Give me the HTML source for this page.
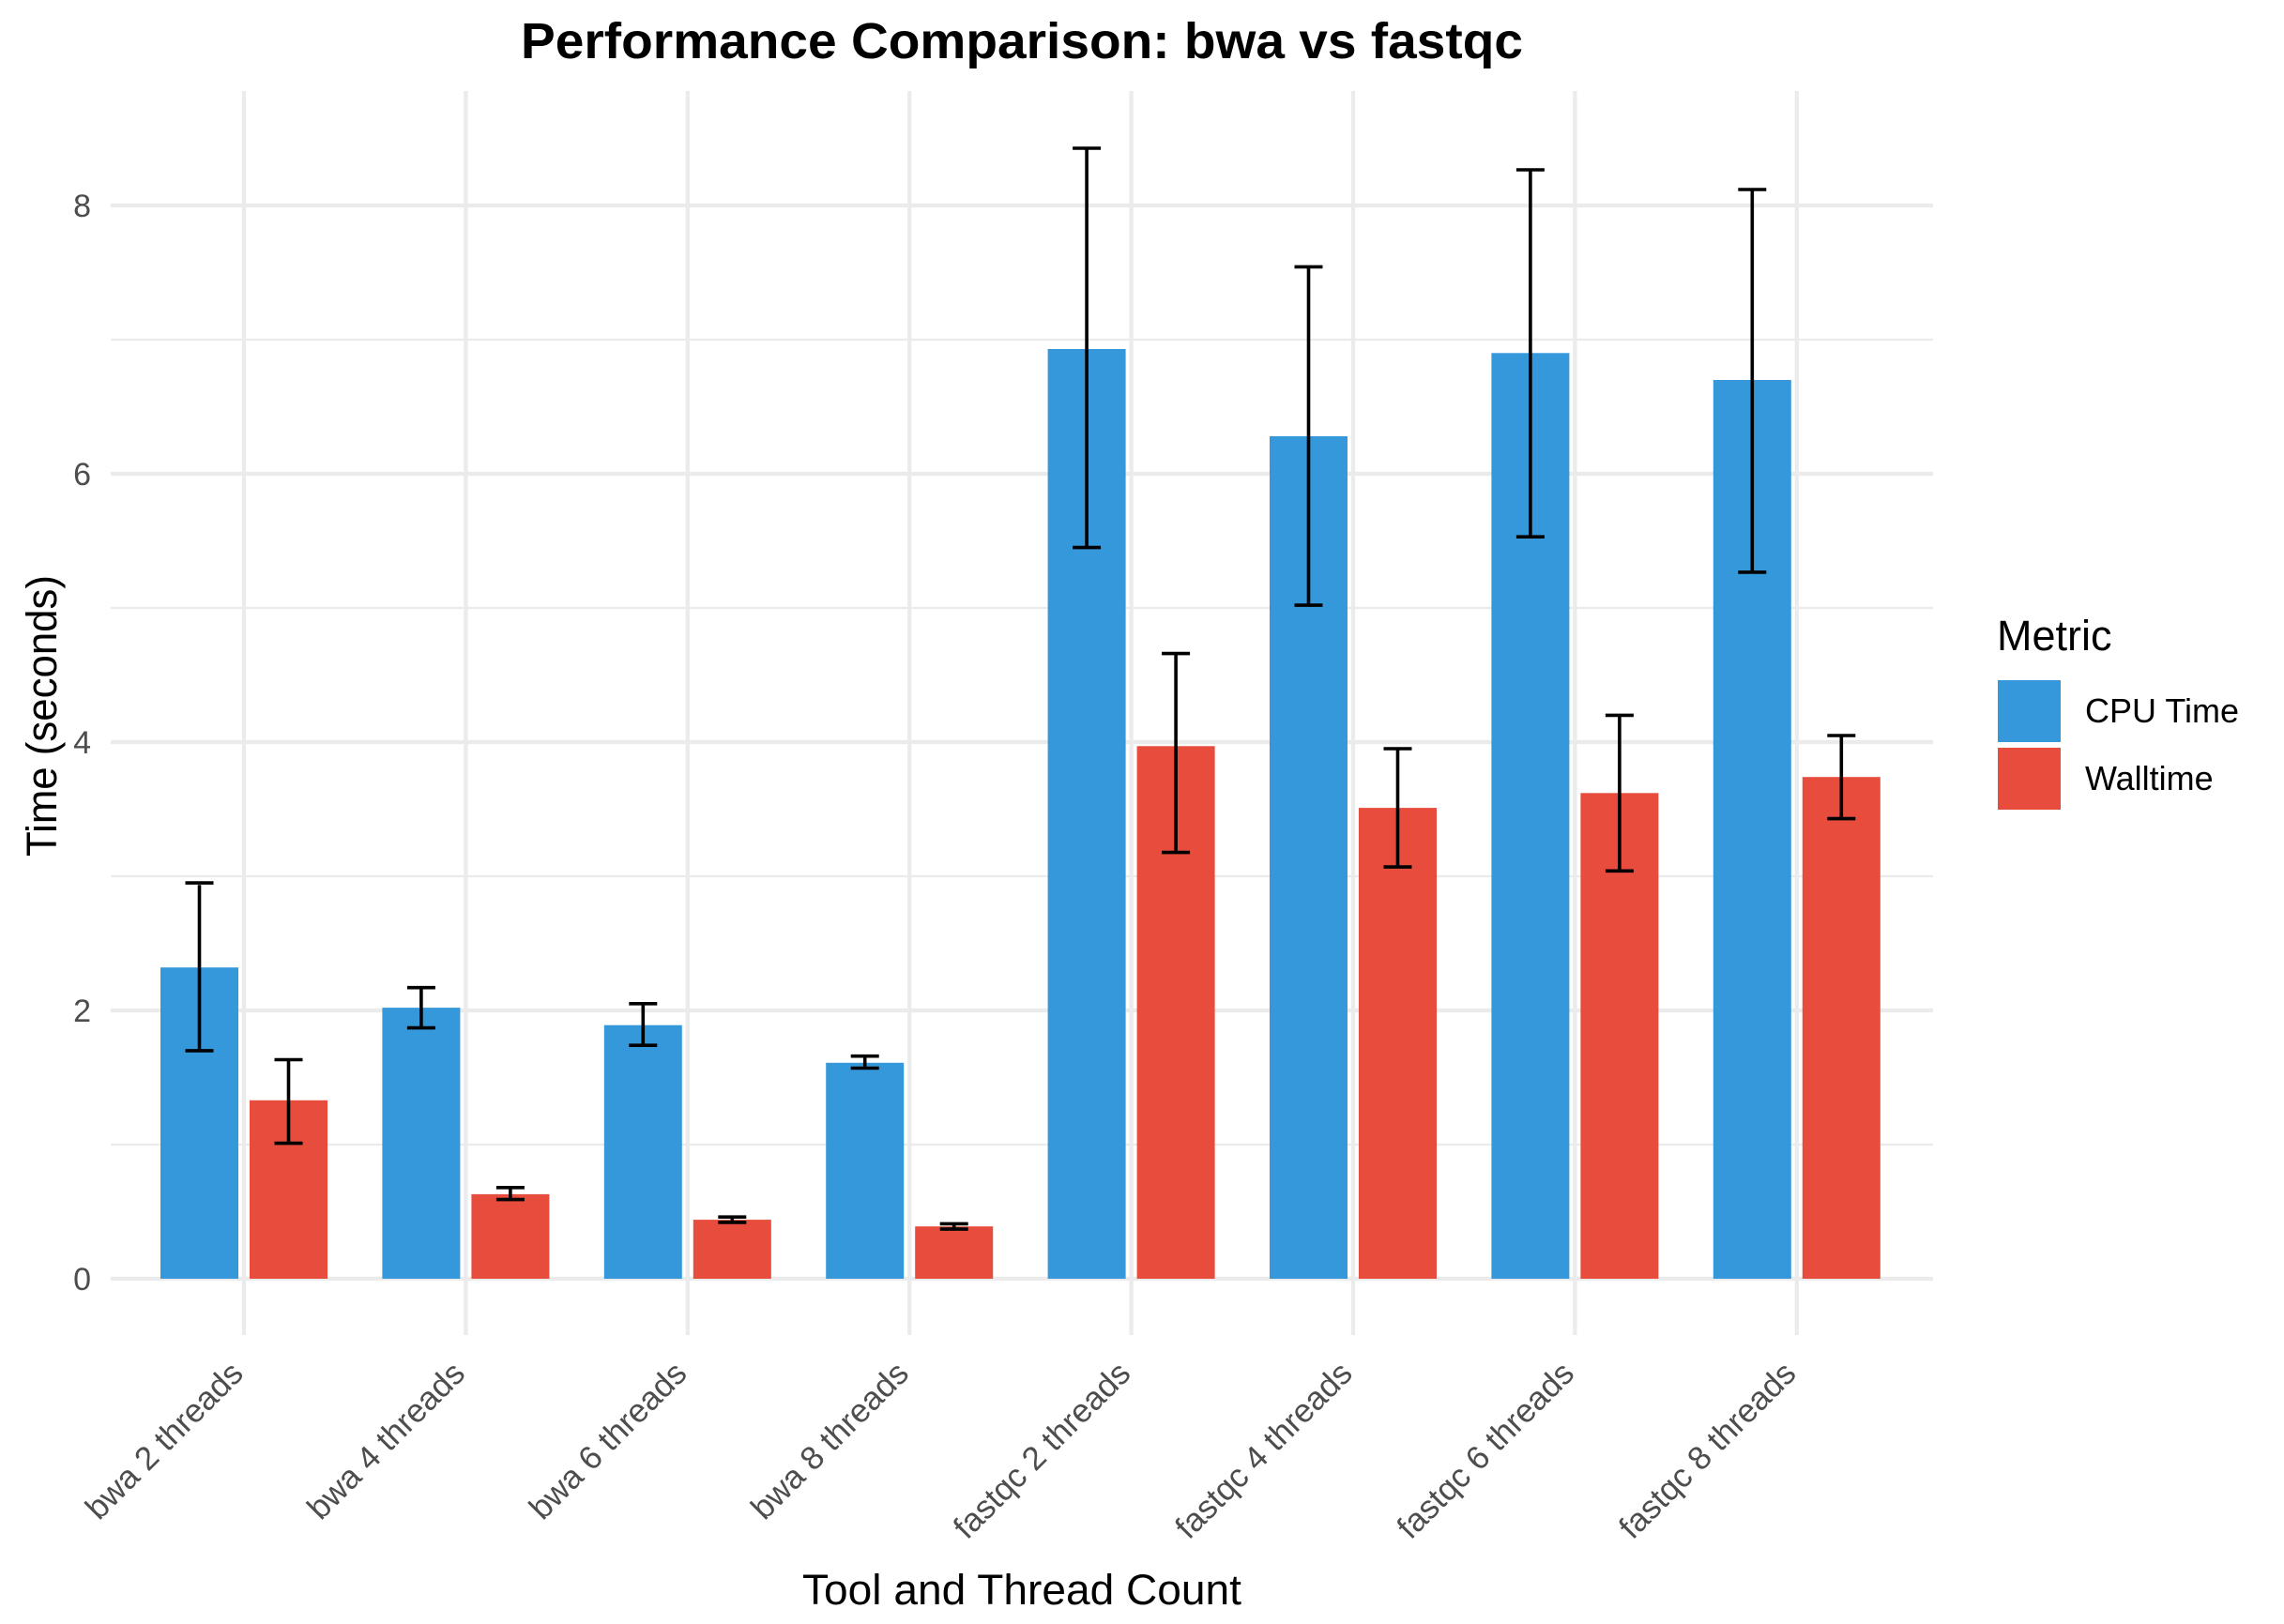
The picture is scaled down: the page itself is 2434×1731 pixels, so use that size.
<!DOCTYPE html>
<html><head><meta charset="utf-8"><style>html,body{margin:0;padding:0;background:#fff}svg{display:block}</style></head>
<body>
<svg width="2434" height="1731" viewBox="0 0 2434 1731" xmlns="http://www.w3.org/2000/svg" font-family="Liberation Sans, Arial, sans-serif">
<rect width="2434" height="1731" fill="#fff"/>
<g stroke="#ebebeb">
<g stroke-width="2.2">
<line x1="118" x2="2060" y1="1220" y2="1220"/><line x1="118" x2="2060" y1="934" y2="934"/><line x1="118" x2="2060" y1="648" y2="648"/><line x1="118" x2="2060" y1="362" y2="362"/>
</g>
<g stroke-width="4.3">
<line x1="118" x2="2060" y1="1363" y2="1363"/><line x1="118" x2="2060" y1="1077" y2="1077"/><line x1="118" x2="2060" y1="791" y2="791"/><line x1="118" x2="2060" y1="505" y2="505"/><line x1="118" x2="2060" y1="219" y2="219"/>
<line x1="260" x2="260" y1="97" y2="1423"/><line x1="496.4" x2="496.4" y1="97" y2="1423"/><line x1="732.8" x2="732.8" y1="97" y2="1423"/><line x1="969.2" x2="969.2" y1="97" y2="1423"/><line x1="1205.6" x2="1205.6" y1="97" y2="1423"/><line x1="1442" x2="1442" y1="97" y2="1423"/><line x1="1678.4" x2="1678.4" y1="97" y2="1423"/><line x1="1914.8" x2="1914.8" y1="97" y2="1423"/>
</g></g>
<g font-size="34" fill="#4d4d4d" text-anchor="end">
<text x="97" y="1375">0</text><text x="97" y="1089">2</text><text x="97" y="803">4</text><text x="97" y="517">6</text><text x="97" y="231">8</text>
</g>
<g font-size="35" fill="#4d4d4d" text-anchor="end">
<text transform="translate(261,1466) rotate(-45)">bwa 2 threads</text>
<text transform="translate(497.4,1466) rotate(-45)">bwa 4 threads</text>
<text transform="translate(733.8,1466) rotate(-45)">bwa 6 threads</text>
<text transform="translate(970.2,1466) rotate(-45)">bwa 8 threads</text>
<text transform="translate(1206.6,1466) rotate(-45)">fastqc 2 threads</text>
<text transform="translate(1443,1466) rotate(-45)">fastqc 4 threads</text>
<text transform="translate(1679.4,1466) rotate(-45)">fastqc 6 threads</text>
<text transform="translate(1915.8,1466) rotate(-45)">fastqc 8 threads</text>
</g>
<text x="1089" y="62" font-size="54" font-weight="bold" text-anchor="middle" fill="#000" textLength="1068" lengthAdjust="spacingAndGlyphs">Performance Comparison: bwa vs fastqc</text>
<text x="1089" y="1710" font-size="45" text-anchor="middle" fill="#000" textLength="468" lengthAdjust="spacingAndGlyphs">Tool and Thread Count</text>
<text transform="translate(60,763) rotate(-90)" font-size="45" text-anchor="middle" fill="#000" textLength="300" lengthAdjust="spacingAndGlyphs">Time (seconds)</text>
<text x="2128" y="693" font-size="45" fill="#000">Metric</text>
<rect x="2129" y="725" width="67" height="66" fill="#3598db"/>
<rect x="2129" y="797" width="67" height="66" fill="#e74c3c"/>
<text x="2222" y="770" font-size="36" fill="#000">CPU Time</text>
<text x="2222" y="842" font-size="36" fill="#000">Walltime</text>
<g fill="#3598db">
<rect x="171" y="1031.2" width="83" height="331.8"/>
<rect x="407.4" y="1074.1" width="83" height="288.9"/>
<rect x="643.8" y="1092.7" width="83" height="270.3"/>
<rect x="880.2" y="1132.8" width="83" height="230.2"/>
<rect x="1116.6" y="372" width="83" height="991"/>
<rect x="1353" y="465" width="83" height="898"/>
<rect x="1589.4" y="376.3" width="83" height="986.7"/>
<rect x="1825.8" y="405" width="83" height="958"/>
</g>
<g fill="#e74c3c">
<rect x="266" y="1172.8" width="83" height="190.2"/>
<rect x="502.4" y="1272.9" width="83" height="90.1"/>
<rect x="738.8" y="1300.1" width="83" height="62.9"/>
<rect x="975.2" y="1307.2" width="83" height="55.8"/>
<rect x="1211.6" y="795.3" width="83" height="567.7"/>
<rect x="1448" y="861.1" width="83" height="501.9"/>
<rect x="1684.4" y="845.3" width="83" height="517.7"/>
<rect x="1920.8" y="828.2" width="83" height="534.8"/>
</g>
<g stroke="#000" stroke-width="3.6" fill="none">
<path d="M212.5 1119.9v-176.6M197.5 1119.9h30M197.5 941.1h30"/>
<path d="M307.5 1218.6v-88.6M292.5 1218.6h30M292.5 1129.5h30"/>
<path d="M448.9 1095.6v-42.9M433.9 1095.6h30M433.9 1052.7h30"/>
<path d="M543.9 1278.6v-12.9M528.9 1278.6h30M528.9 1265.8h30"/>
<path d="M685.3 1114.2v-45.8M670.3 1114.2h30M670.3 1069.8h30"/>
<path d="M780.3 1302.9v-5.7M765.3 1302.9h30M765.3 1297.2h30"/>
<path d="M921.7 1138.5v-12.9M906.7 1138.5h30M906.7 1125.7h30"/>
<path d="M1016.7 1310.1v-5.8M1001.7 1310.1h30M1001.7 1304.4h30"/>
<path d="M1158.1 583.6v-424.6M1143.1 583.6h30M1143.1 158h30"/>
<path d="M1253.1 908.6v-211.6M1238.1 908.6h30M1238.1 696.6h30"/>
<path d="M1394.5 645.1v-361.9M1379.5 645.1h30M1379.5 284.4h30"/>
<path d="M1489.5 924.1v-125.8M1474.5 924.1h30M1474.5 798h30"/>
<path d="M1630.9 572.2v-391.2M1615.9 572.2h30M1615.9 181h30"/>
<path d="M1725.9 928.3v-166M1710.9 928.3h30M1710.9 762.4h30"/>
<path d="M1867.3 609.9v-406.3M1852.3 609.9h30M1852.3 202h30"/>
<path d="M1962.3 872.6v-88.7M1947.3 872.6h30M1947.3 784h30"/>
</g>
</svg>
</body></html>
